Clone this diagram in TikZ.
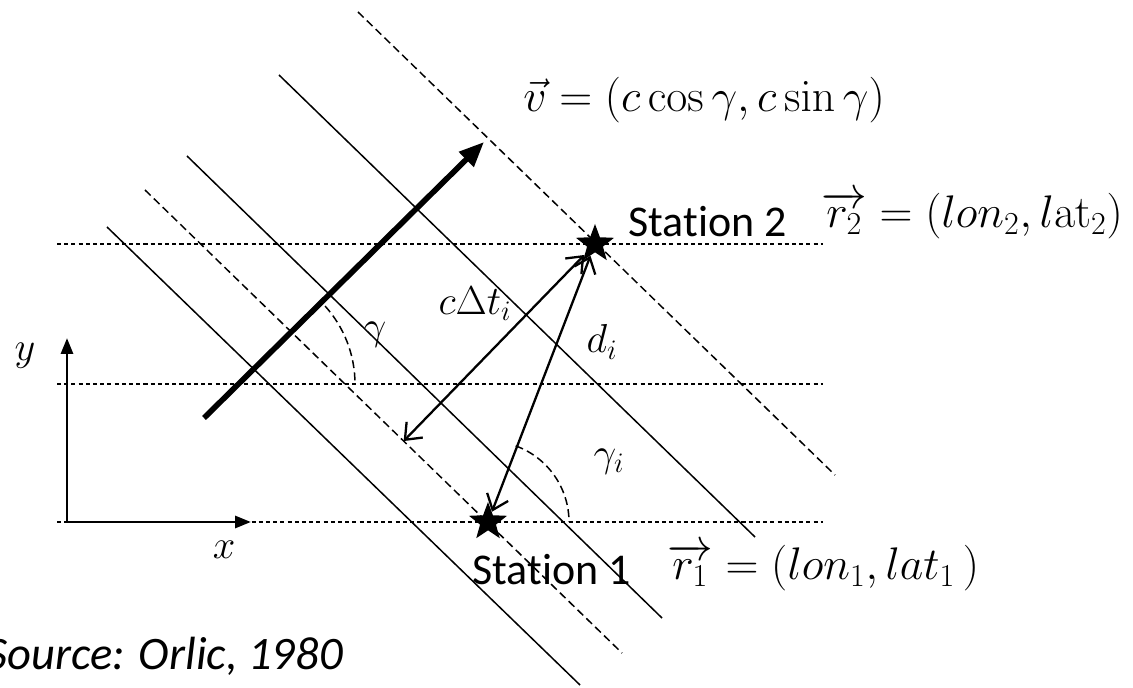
\RequirePackage{fix-cm}
\documentclass[tikz,border=0pt]{standalone}
\usepackage{amsmath}
\usepackage[no-math]{fontspec}
\setmainfont{Carlito}[Ligatures={NoCommon}]
\usepackage{tikz}
\usetikzlibrary{shapes.geometric,arrows.meta,calc}

\begin{document}
\begin{tikzpicture}[
  front/.style={line width=0.85pt},
  frontd/.style={line width=0.85pt, dash pattern=on 4.5pt off 2.5pt},
  level/.style={line width=0.8pt, dash pattern=on 2.3pt off 1.8pt},
  axis/.style={line width=1.7pt, -{Triangle[length=0.32cm,width=0.24cm]}},
  prop/.style={line width=3.2pt, -{Triangle[length=0.5cm,width=0.4cm]}},
  dub/.style={line width=1.3pt, {Straight Barb[length=0.28cm,width=0.45cm]}-{Straight Barb[length=0.28cm,width=0.45cm]}},
  sta/.style={star, star points=5, star point ratio=2.4, fill=black, minimum size=0.8cm, inner sep=0pt},
  mth/.style={font=\fontsize{23}{27}\selectfont, inner sep=0pt},
  eqn/.style={font=\fontsize{26}{30}\selectfont, inner sep=0pt},
  lbl/.style={font=\fontsize{25}{29}\selectfont, inner sep=0pt}
]
  \useasboundingbox (0,0) rectangle (22.66,13.74);
  % horizontal levels
  \foreach \y in {8.86,6.06,3.30}
    \draw[level] (1.14,\y) -- (16.46,\y);
  % wave fronts
  \foreach \sx/\sy/\ex/\ey/\st in {7.16/13.50/16.70/4.24/frontd, 5.58/12.24/15.10/3.00/front,
      3.74/10.62/13.24/1.38/front, 2.90/9.94/12.44/0.68/frontd, 2.14/9.20/11.60/0.04/front}
    \draw[\st] (\sx,\sy) -- (\ex,\ey);
  % axes
  \coordinate (O) at (1.34,3.30);
  \coordinate (xend) at (5.02,3.30);
  \coordinate (yend) at (1.34,6.98);
  \draw[axis] (O) -- (xend);
  \draw[axis] (O) -- (yend);
  \node[mth] (xl) at (4.48,2.74) {$x$};
  \node[mth] (yl) at (0.50,6.62) {$y$};
  % propagation
  \coordinate (tail) at (4.08,5.38);
  \coordinate (head) at (9.68,10.90);
  \draw[prop] (tail) -- (head);
  \coordinate (gc) at (4.77,6.06);
  \draw[frontd] ($(gc)+(42:2.33)$) arc[start angle=42, end angle=0, radius=2.33];
  \node[mth] (gam) at (7.50,7.04) {$\gamma$};
  \node[eqn, anchor=base west] (veq) at (10.46,11.50) {$\vec{v} = (c\cos\gamma, c\sin\gamma)$};
  % stations
  \node[sta] (s2) at (11.90,8.86) {};
  \node[sta] (s1) at (9.76,3.30) {};
  \node[lbl, anchor=base west] (st2) at (12.56,9.00) {Stat\kern0pt ion 2};
  \node[eqn, anchor=base west] (req2) at (16.42,9.18) {$\overrightarrow{r_2} = (lon_2, l\mathrm{at}_2)$};
  \node[lbl, anchor=base west] (st1) at (9.44,2.04) {Stat\kern0pt ion 1};
  \node[eqn, anchor=base west] (req1) at (13.34,2.14) {$\overrightarrow{r_1} = (lon_1, lat_1\,)$};
  % distances
  \coordinate (foot) at ($(2.90,9.94)!(s2)!(12.44,0.68)$);
  \draw[dub] (foot) -- (s2);
  \draw[dub] (s1) -- (s2);
  \node[mth] (cdt) at (9.50,7.66) {$c\Delta t_i$};
  \node[mth] (di) at (12.04,6.90) {$d_i$};
  \draw[frontd] ($(s1)+(70:1.62)$) arc[start angle=70, end angle=0, radius=1.62];
  \node[mth] (gami) at (12.18,4.50) {$\gamma_i$};
  \node[lbl, font=\fontsize{26.5}{30}\selectfont\itshape, anchor=base east] (src) at (6.86,0.34) {Source: Orlic, 1980};
\end{tikzpicture}
\end{document}
